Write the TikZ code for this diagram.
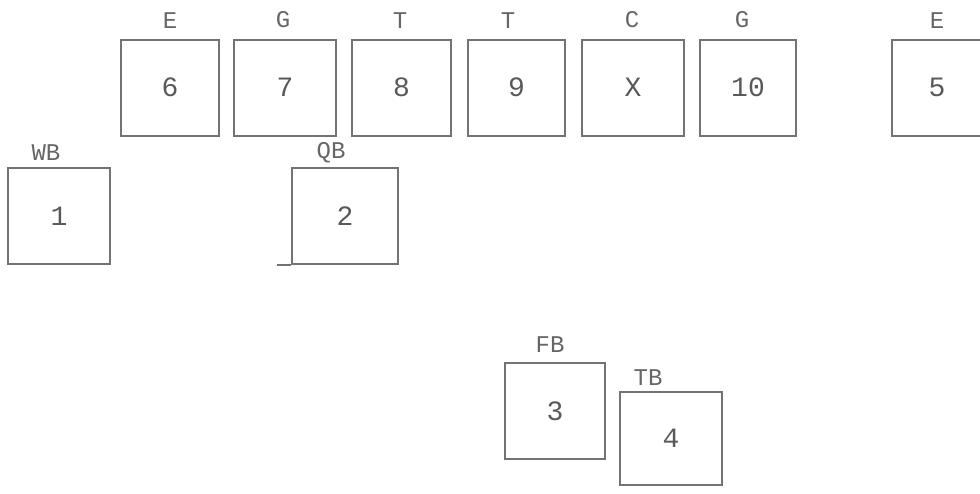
\documentclass[tikz,border=0pt]{standalone}
\usepackage{fontspec}
\setmonofont{Liberation Mono}
\begin{document}
\begin{tikzpicture}[x=1pt,y=-1pt,
  posbox/.style={draw=black!55,line width=2pt,minimum width=#1,minimum height=96pt,inner sep=0pt,
    font=\ttfamily\fontsize{28}{28}\selectfont,text=black!65},
  posbox/.default=98pt,
  lbl/.style={font=\ttfamily\fontsize{24}{24}\selectfont,text=black!60,inner sep=0pt}]
\useasboundingbox (0,0) rectangle (980,493);
% top row
\node[posbox=98pt]  (p6)  at (170,87.5) {6};
\node[posbox=102pt] (p7)  at (285,87.5) {7};
\node[posbox=99pt]  (p8)  at (401.5,87.5) {8};
\node[posbox=97pt]  (p9)  at (516.5,87.5) {9};
\node[posbox=102pt] (pX)  at (633,87.5) {X};
\node[posbox=96pt]  (p10) at (748,87.5) {10};
\node[posbox=90pt]  (p5)  at (937,87.5) {5};
% second row
\node[posbox=102pt] (p1) at (59,216) {1};
\node[posbox=106pt] (p2) at (345,216) {2};
% bottom
\node[posbox=100pt] (p3) at (555,411) {3};
\node[posbox=102pt,minimum height=93pt] (p4) at (671,438.5) {4};
% labels
\node[lbl] (l6)  at (170,21) {E};
\node[lbl] (l7)  at (283,20) {G};
\node[lbl] (l8)  at (400,21) {T};
\node[lbl] (l9)  at (508,21) {T};
\node[lbl] (lX)  at (632,20) {C};
\node[lbl] (l10) at (742,20) {G};
\node[lbl] (l5)  at (937,21) {E};
\node[lbl] (l1)  at (46,153) {WB};
\node[lbl] (l2)  at (331,153) {QB};
\node[lbl] (l3)  at (550,345) {FB};
\node[lbl] (l4)  at (648,378) {TB};
\draw[black!55,line width=1.5pt] (p2.south west) -- ++(-14,0);
\end{tikzpicture}
\end{document}
